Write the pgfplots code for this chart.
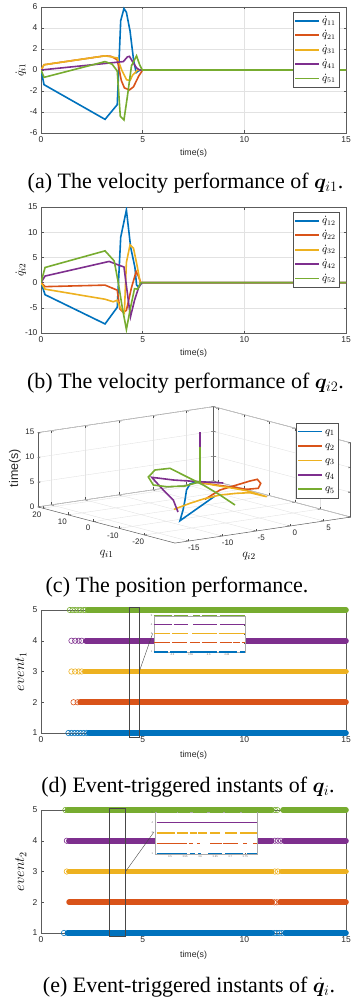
\documentclass[border=0pt]{standalone}
\usepackage{fontspec}
\setmainfont{Liberation Serif}
\newfontfamily\arial{Liberation Sans}
\usepackage{bm}
\usepackage{pgfplots}
\pgfplotsset{compat=1.18}
\definecolor{mblue}{RGB}{0,114,189}
\definecolor{morange}{RGB}{217,83,25}
\definecolor{myellow}{RGB}{237,177,32}
\definecolor{mpurple}{RGB}{126,47,142}
\definecolor{mgreen}{RGB}{119,172,48}
\definecolor{mdark}{RGB}{38,38,38}
\definecolor{mgrid}{RGB}{226,226,226}
\pgfplotsset{
  base/.style={
    axis line style={draw=mdark!75, line width=0.5pt},
    tick style={draw=mdark!80, line width=0.4pt},
    tick align=inside, major tick length=2.5pt,
    tick label style={font=\arial\fontsize{8.5}{10}\selectfont, text=mdark},
    /pgf/number format/assume math mode=true,
  },
  m2d/.style={base, scale only axis, width=305pt, xmin=0, xmax=15, xtick={0,5,10,15},
    xlabel={time(s)},
    xlabel style={font=\arial\fontsize{8.8}{10}\selectfont, text=mdark, at={(axis description cs:0.5,-0.16)}, anchor=center},
    ylabel style={font=\fontsize{13}{15}\selectfont, at={(axis description cs:-0.066,0.5)}, anchor=center},
  },
  mleg/.style={legend style={at={(0.977,0.96)}, anchor=north east, draw=mdark!80, line width=0.4pt, fill=white,
      font=\fontsize{10.5}{12}\selectfont, inner sep=1.5pt, row sep=0pt,
      nodes={inner sep=1.8pt, text height=8pt, text depth=2.8pt}},
    legend cell align=left},
  cur/.style={line width=1.6pt},
  ev/.style={base, scale only axis, width=305pt, height=123pt, xmin=0, xmax=15, xtick={0,5,10,15},
    ymin=1, ymax=5, ytick={1,2,3,4,5}, clip=false,
    xlabel={time(s)},
    xlabel style={font=\arial\fontsize{8.8}{10}\selectfont, text=mdark, at={(axis description cs:0.5,-0.179)}, anchor=center},
    ylabel style={font=\fontsize{14}{16}\selectfont, at={(axis description cs:-0.066,0.5)}, anchor=center},
  },
  circ/.style={only marks, mark=o, mark size=2.7pt, mark options={line width=0.6pt}},
  bar/.style={line width=5.6pt, line cap=round},
  inset/.style={base, scale only axis, ymin=1, ymax=5, ytick={1,2,3,4,5},
    tick label style={font=\arial\fontsize{2.6}{3}\selectfont, text=mdark!70},
    major tick length=1pt, axis line style={draw=mdark!40, line width=0.3pt},
    axis background/.style={fill=white}, unbounded coords=jump, clip=false,
    xticklabel style={yshift=1.5pt}, yticklabel style={xshift=1.5pt}},
  seg/.style={line width=1.1pt},
}
\begin{document}
\begin{tikzpicture}
% ---------------- (a)
\begin{axis}[m2d, mleg, at={(41pt,-7pt)}, anchor=north west, height=126pt,
  ymin=-6, ymax=6, ytick={-6,-4,-2,0,2,4,6}, grid=major, major grid style={mgrid, line width=0.4pt},
  ylabel={$\dot{q}_{i1}$},
  legend image code/.code={\draw[#1, line width=1.7pt] (0pt,0pt) -- (24pt,0pt);}]
\addplot[cur, mblue] coordinates {(0,0) (0.15,-1.4) (3.15,-4.7) (3.75,-3.3) (3.92,4.7) (4.08,5.85) (4.2,5.5) (4.38,3.7) (4.55,1.0) (4.68,-0.25) (4.78,-0.1) (4.9,0) (15,0)};
\addplot[cur, morange] coordinates {(0,0) (0.15,0.5) (3.15,1.35) (3.45,1.3) (3.75,0.97) (3.95,-1.0) (4.1,-1.7) (4.35,-1.9) (4.55,-1.6) (4.8,-0.6) (5.0,0) (15,0)};
\addplot[cur, myellow] coordinates {(0,0) (0.15,0.5) (3.15,1.35) (3.75,1.15) (3.97,0.0) (4.21,-0.93) (4.38,-1.0) (4.5,-0.5) (4.75,0) (15,0)};
\addplot[cur, mpurple] coordinates {(0,0) (3.8,0.75) (4.05,0.8) (4.25,1.25) (4.35,1.3) (4.5,0.8) (4.7,0.2) (4.85,0) (15,0)};
\addplot[cur, mgreen] coordinates {(0,0) (0.15,-0.7) (3.15,0.8) (3.5,0.55) (3.75,-0.1) (3.9,-4.4) (4.08,-4.75) (4.25,-2.5) (4.45,0.4) (4.7,1.35) (4.85,0.5) (4.98,0) (15,0)};
\addlegendentry{$\dot{q}_{11}$}
\addlegendentry{$\dot{q}_{21}$}
\addlegendentry{$\dot{q}_{31}$}
\addlegendentry{$\dot{q}_{41}$}
\addlegendentry{$\dot{q}_{51}$}
\end{axis}
\node[anchor=base, font=\fontsize{22}{24}\selectfont] at (185.5pt,-188pt) {(a) The velocity performance of $\bm{q}_{i1}$.};
% ---------------- (b)
\begin{axis}[m2d, mleg, at={(41pt,-207pt)}, anchor=north west, height=126pt,
  ymin=-10, ymax=15, ytick={-10,-5,0,5,10,15}, grid=major, major grid style={mgrid, line width=0.4pt},
  ylabel={$\dot{q}_{i2}$},
  legend image code/.code={\draw[#1, line width=1.7pt] (0pt,0pt) -- (24pt,0pt);}]
\addplot[cur, mblue] coordinates {(0,0) (0.2,-2.4) (3.15,-8.2) (3.75,-4.9) (3.92,9.0) (4.2,14.4) (4.41,7.0) (4.62,3.0) (4.7,-0.5) (4.8,-0.9) (4.9,-0.3) (5,0) (15,0)};
\addplot[cur, morange] coordinates {(0,0) (0.2,-0.8) (3.15,-0.5) (3.75,-1.5) (3.88,-5.2) (4.05,-5.9) (4.2,-5.5) (4.45,-1.0) (4.68,2.2) (4.8,1.2) (4.9,0) (15,0)};
\addplot[cur, myellow] coordinates {(0,0) (0.2,-1.3) (3.15,-3.3) (3.55,-3.8) (3.75,-3.5) (3.9,-5.0) (4.1,-6.0) (4.2,4.0) (4.38,7.5) (4.55,6.8) (4.72,3.5) (4.88,0) (15,0)};
\addplot[cur, mpurple] coordinates {(0,0) (0.2,1.3) (3.35,4.2) (3.8,3.5) (4.08,3.1) (4.4,-6.8) (4.6,-3.5) (4.8,-1.0) (4.95,0) (15,0)};
\addplot[cur, mgreen] coordinates {(0,0) (0.2,3.0) (3.15,6.3) (3.6,4.3) (3.8,0) (4.0,-5) (4.2,-9.3) (4.4,-5) (4.6,-1.2) (4.75,-1.3) (4.9,0) (15,0)};
\addlegendentry{$\dot{q}_{12}$}
\addlegendentry{$\dot{q}_{22}$}
\addlegendentry{$\dot{q}_{32}$}
\addlegendentry{$\dot{q}_{42}$}
\addlegendentry{$\dot{q}_{52}$}
\end{axis}
\node[anchor=base, font=\fontsize{22}{24}\selectfont] at (185.5pt,-388pt) {(b) The velocity performance of $\bm{q}_{i2}$.};
% ---------------- (c)
\begin{axis}[base, at={(208.6pt,-504.6pt)}, anchor=origin,
  x={(6.76pt,1pt)}, y={(-2.54pt,0.67pt)}, z={(0pt,4.95pt)},
  xmin=-17, xmax=9, ymin=-32, ymax=22, zmin=0, zmax=15,
  xtick={-15,-10,-5,0,5}, ytick={-20,-10,0,10,20}, ztick={0,5,10,15},
  tick label style={font=\arial\fontsize{8}{9}\selectfont, text=mdark},
  grid=major, major grid style={mgrid, line width=0.4pt}, clip=false,
  legend style={at={(0.96,0.882)}, anchor=north east, draw=mdark!80, line width=0.4pt, fill=white,
      font=\fontsize{11}{12}\selectfont, inner sep=1.5pt, row sep=0pt,
      nodes={inner sep=1.8pt, text height=8pt, text depth=2.8pt}},
  legend cell align=left,
  legend image code/.code={\draw[#1, line width=1.7pt] (0pt,0pt) -- (24pt,0pt);}]
\addplot3[cur, mblue] coordinates {(3.70,7.32,0) (-14.19,-26.5,3.2) (-10.59,-18.12,3.5) (-7.34,-10.25,3.8) (-4.14,-2.32,4.1) (-2.19,1.50,4.4) (-1.61,0.67,4.8) (-1.48,-0.55,5) (-1.48,-0.55,15)};
\addplot3[cur, morange] coordinates {(1.56,5.58,0) (4.55,7.62,1) (5.47,4.83,2) (7.07,2.51,3) (7.66,1.21,3.4) (6.01,-4.52,3.7) (3.63,-9.91,3.9) (1.81,-10.17,4.1) (0.91,-7.31,4.3) (-0.20,-3.71,4.5) (-1.39,-1.60,4.8) (-1.48,-0.55,5) (-1.48,-0.55,15)};
\addplot3[cur, myellow] coordinates {(-4.97,0.40,0) (-2.72,0.09,0.8) (-1.16,-1.0,1.5) (0.62,-2.85,2.2) (1.74,-6.42,2.8) (2.51,-9.62,3.2) (1.94,-17.71,3.6) (1.49,-11.03,4.0) (0.45,-7.23,4.3) (-0.69,-3.70,4.6) (-1.48,-0.55,5) (-1.48,-0.55,15)};
\addplot3[cur, mpurple] coordinates {(-5.56,-2.75,0) (-3.83,3.71,1.2) (-3.14,9.48,2.3) (-1.45,18.53,3.3) (-1.26,10.53,3.8) (0.12,3.70,4.1) (1.33,-2.25,4.4) (-0.22,-1.13,4.7) (-1.48,-0.55,5) (-1.48,-0.55,15)};
\addplot3[cur, mgreen] coordinates {(2.36,-4.12,0) (1.86,0.46,1.5) (1.56,6.24,2.8) (1.83,14.84,3.6) (2.27,21.24,4.0) (-0.12,20.79,4.2) (-3.53,14.33,4.35) (-6.20,5.26,4.5) (-5.81,1.03,4.65) (-4.09,-1.60,4.8) (-1.48,-0.55,5) (-1.48,-0.55,12)};
\addlegendentry{$q_1$}
\addlegendentry{$q_2$}
\addlegendentry{$q_3$}
\addlegendentry{$q_4$}
\addlegendentry{$q_5$}
\end{axis}
\node[font=\arial\fontsize{12.5}{14}\selectfont, rotate=90, text=mdark] at (15pt,-468pt) {time(s)};
\node[font=\fontsize{12.5}{14}\selectfont] at (106.7pt,-554pt) {$q_{i1}$};
\node[font=\fontsize{12.5}{14}\selectfont] at (249pt,-556pt) {$q_{i2}$};
\node[anchor=base, font=\fontsize{22}{24}\selectfont] at (177pt,-592.7pt) {(c) The position performance.};
% ---------------- (d)
\begin{axis}[ev, at={(41pt,-610pt)}, anchor=north west, ylabel={$event_1$}]
\addplot[bar, mblue] coordinates {(2.35,1) (15,1)};
\addplot[circ, mblue] coordinates {(1.35,1) (1.5,1) (1.65,1) (1.8,1) (1.95,1) (2.1,1) (2.25,1)};
\addplot[bar, morange] coordinates {(1.92,2) (15,2)};
\addplot[circ, morange] coordinates {(1.6,2) (1.8,2)};
\addplot[bar, myellow] coordinates {(2.15,3) (15,3)};
\addplot[circ, myellow] coordinates {(1.5,3) (1.68,3) (1.85,3) (2.0,3)};
\addplot[bar, mpurple] coordinates {(2.2,4) (15,4)};
\addplot[circ, mpurple] coordinates {(1.5,4) (1.68,4) (1.85,4) (2.0,4)};
\addplot[bar, mgreen] coordinates {(2.3,5) (15,5)};
\addplot[circ, mgreen] coordinates {(1.42,5) (1.55,5) (1.68,5) (1.82,5) (1.95,5) (2.1,5) (2.2,5)};
\draw[mdark!85, line width=0.6pt] (axis cs:4.33,0.87) rectangle (axis cs:4.85,5.1);
\draw[mdark!85, line width=0.4pt] (axis cs:4.85,3.03) -- (axis cs:5.49,4.24);
\end{axis}
\begin{axis}[inset, at={(154.3pt,-652pt)}, anchor=south west, width=90.7pt, height=36.3pt,
  xmin=4.45, xmax=4.70, xtick={4.5,4.55,4.6,4.65}]
\addplot[seg, mblue] coordinates {(4.448,1) (4.489,1) (4.5,nan) (4.494,1) (4.540,1) (4.5,nan) (4.549,1) (4.622,1) (4.5,nan) (4.627,1) (4.677,1) (4.5,nan) (4.686,1) (4.700,1)};
\addplot[seg, morange] coordinates {(4.448,2) (4.494,2) (4.5,nan) (4.499,2) (4.540,2) (4.5,nan) (4.549,2) (4.576,2) (4.5,nan) (4.581,2) (4.622,2) (4.5,nan) (4.631,2) (4.663,2) (4.5,nan) (4.668,2) (4.686,2) (4.5,nan) (4.691,2) (4.700,2)};
\addplot[seg, myellow] coordinates {(4.448,3) (4.494,3) (4.5,nan) (4.499,3) (4.544,3) (4.5,nan) (4.554,3) (4.622,3) (4.5,nan) (4.627,3) (4.700,3)};
\addplot[seg, mpurple] coordinates {(4.448,4) (4.499,4) (4.5,nan) (4.503,4) (4.544,4) (4.5,nan) (4.558,4) (4.622,4) (4.5,nan) (4.631,4) (4.700,4)};
\addplot[seg, mgreen] coordinates {(4.448,5) (4.499,5) (4.5,nan) (4.503,5) (4.544,5) (4.5,nan) (4.558,5) (4.576,5) (4.5,nan) (4.581,5) (4.622,5) (4.5,nan) (4.631,5) (4.700,5)};
\end{axis}
\node[anchor=base, font=\fontsize{22}{24}\selectfont] at (188pt,-792pt) {(d) Event-triggered instants of $\bm{q}_{i}$.};
% ---------------- (e)
\begin{axis}[ev, at={(41pt,-810pt)}, anchor=north west, ylabel={$event_2$}]
\addplot[bar, mblue] coordinates {(1.3,1) (11.35,1)};
\addplot[bar, mblue] coordinates {(12.0,1) (15,1)};
\addplot[circ, mblue] coordinates {(1.13,1) (11.48,1) (11.6,1) (11.72,1) (11.85,1)};
\addplot[bar, morange] coordinates {(1.38,2) (11.35,2)};
\addplot[bar, morange] coordinates {(11.75,2) (15,2)};
\addplot[circ, morange] coordinates {(11.47,2) (11.6,2)};
\addplot[bar, myellow] coordinates {(1.37,3) (11.35,3)};
\addplot[bar, myellow] coordinates {(11.82,3) (15,3)};
\addplot[circ, myellow] coordinates {(1.27,3) (11.5,3) (11.65,3)};
\addplot[bar, mpurple] coordinates {(1.37,4) (11.35,4)};
\addplot[bar, mpurple] coordinates {(11.95,4) (15,4)};
\addplot[circ, mpurple] coordinates {(1.27,4) (11.5,4) (11.65,4) (11.8,4)};
\addplot[bar, mgreen] coordinates {(1.3,5) (11.35,5)};
\addplot[bar, mgreen] coordinates {(11.9,5) (15,5)};
\addplot[circ, mgreen] coordinates {(1.2,5) (11.5,5) (11.62,5)};
\draw[mdark!85, line width=0.6pt] (axis cs:3.36,0.9) rectangle (axis cs:4.15,5.07);
\draw[mdark!85, line width=0.4pt] (axis cs:4.15,2.99) -- (axis cs:5.56,4.29);
\end{axis}
\begin{axis}[inset, at={(155pt,-853.7pt)}, anchor=south west, width=102.3pt, height=41.4pt,
  xmin=3.45, xmax=3.79, xtick={3.5,3.55,3.6,3.65,3.7,3.75}]
\addplot[seg, mblue] coordinates {(3.4555,1) (3.555,1) (3.5,nan) (3.566,1) (3.583,1) (3.5,nan) (3.594,1) (3.602,1) (3.5,nan) (3.627,1) (3.672,1) (3.5,nan) (3.683,1) (3.744,1) (3.5,nan) (3.755,1) (3.788,1)};
\addplot[seg, morange] coordinates {(3.4555,2) (3.555,2) (3.5,nan) (3.564,2) (3.577,2) (3.5,nan) (3.589,2) (3.600,2) (3.5,nan) (3.633,2) (3.672,2) (3.5,nan) (3.677,2) (3.727,2) (3.5,nan) (3.744,2) (3.757,2) (3.5,nan) (3.777,2) (3.788,2)};
\addplot[seg, myellow] coordinates {(3.4555,3) (3.5165,3) (3.5,nan) (3.522,3) (3.561,3) (3.5,nan) (3.566,3) (3.589,3) (3.5,nan) (3.594,3) (3.622,3) (3.5,nan) (3.633,3) (3.666,3) (3.5,nan) (3.683,3) (3.721,3) (3.5,nan) (3.733,3) (3.788,3)};
\addplot[seg, mpurple] coordinates {(3.4555,4) (3.788,4)};
\addplot[seg, mgreen] coordinates {(3.4555,5) (3.522,5) (3.5,nan) (3.5276,5) (3.566,5) (3.5,nan) (3.577,5) (3.622,5) (3.5,nan) (3.633,5) (3.677,5) (3.5,nan) (3.683,5) (3.733,5) (3.5,nan) (3.738,5) (3.788,5)};
\end{axis}
\node[anchor=base, font=\fontsize{22}{24}\selectfont] at (189pt,-992pt) {(e) Event-triggered instants of $\bm{\dot{q}}_{i}$.};
\pgfresetboundingbox
\path[use as bounding box] (0pt,0pt) rectangle (353pt,-1006pt);
\end{tikzpicture}
\end{document}
